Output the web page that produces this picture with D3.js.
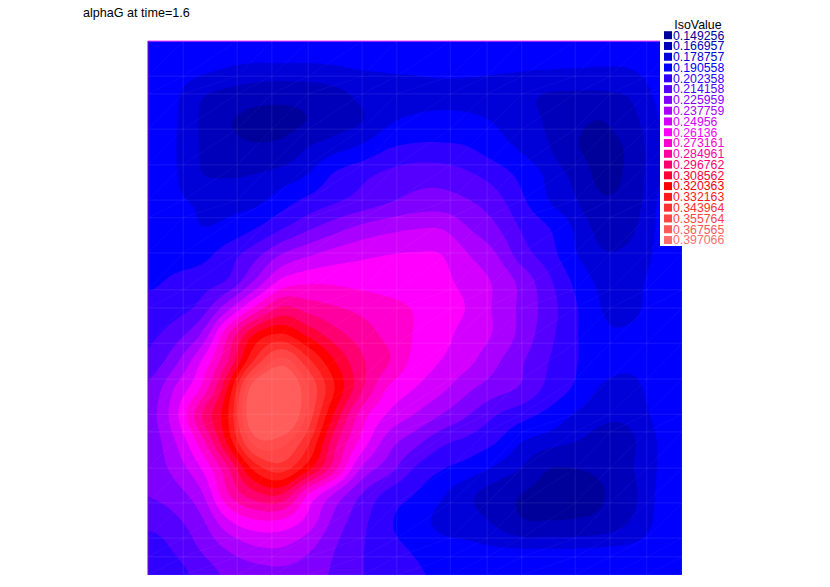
<!DOCTYPE html>
<html><head><meta charset="utf-8">
<script src="https://cdn.jsdelivr.net/npm/d3@7"></script>
<style>html,body{margin:0;background:#fff}svg{display:block}text{font-family:"Liberation Sans",Arial,sans-serif}</style>
</head><body><svg id="c" width="830" height="587"></svg>
<script>
const title = "alphaG at time=1.6";
const legendTitle = "IsoValue";
const isoLabels = ["0.149256","0.166957","0.178757","0.190558","0.202358","0.214158","0.225959","0.237759","0.24956","0.26136","0.273161","0.284961","0.296762","0.308562","0.320363","0.332163","0.343964","0.355764","0.367565","0.397066"];
const isoValues = isoLabels.map(Number);
const isoColors = ["#00009b","#0000bb","#0000d8","#0000ff","#3000ff","#5500ff","#8000ff","#aa00ff","#d400ff","#ff00ff","#ff00d0","#ff00a0","#ff0070","#ff0038","#ff0000","#ff1a1a","#ff3030","#ff4545","#ff5858","#ff6e6e"];
const bandColors = isoColors.slice(0,18).concat(["#ff4c4c","#ff5c5c"]);
const meshX = [0,.066,.167,.232,.3,.401,.466,.566,.635,.7,.8,.865,.934,1];
const meshY = [0,.034,.069,.135,.2,.268,.301,.367,.434,.5,.534,.603,.669,.702,.768,.835,.901,.934,1];
const nCols = 21;
// alphaG, top row first
const alphaG = [
.189,.186,.184,.183,.182,.182,.182,.182,.183,.184,.184,.184,.184,.184,.183,.183,.183,.182,.183,.185,.188,
.189,.186,.182,.1785,.177,.177,.177,.178,.1795,.180,.181,.182,.182,.181,.180,.1795,.179,.1785,.179,.183,.187,
.188,.181,.1685,.163,.158,.156,.158,.163,.170,.174,.174,.175,.174,.172,.170,.166,.165,.165,.168,.180,.186,
.186,.180,.165,.151,.143,.143,.150,.160,.1665,.177,.1815,.183,.182,.178,.172,.165,.154,.149,.160,.177,.185,
.186,.1795,.166,.156,.152,.155,.1675,.175,.181,.190,.193,.193,.191,.184,.177,.168,.151,.145,.152,.176,.185,
.186,.180,.1675,.1655,.1672,.172,.179,.192,.199,.205,.209,.209,.204,.197,.187,.176,.162,.144,.153,.176,.185,
.186,.181,.177,.175,.176,.185,.194,.201,.207,.213,.218,.219,.215,.207,.193,.179,.1685,.152,.156,.178,.185,
.187,.185,.179,.182,.190,.201,.212,.221,.229,.234,.237,.237,.226,.216,.201,.191,.177,.162,.163,.179,.186,
.186,.186,.187,.197,.210,.2265,.236,.243,.247,.2495,.2505,.2495,.238,.227,.208,.196,.180,.1685,.170,.180,.186,
.1885,.1925,.197,.204,.2275,.2525,.259,.259,.257,.256,.255,.2525,.245,.236,.222,.205,.188,.176,.176,.181,.186,
.1945,.1975,.207,.2345,.264,.287,.280,.2745,.270,.265,.2605,.255,.2485,.236,.223,.208,.192,.1785,.1775,.181,.187,
.1995,.209,.2275,.2725,.310,.322,.306,.290,.279,.270,.2605,.2535,.2445,.2365,.222,.206,.192,.181,.1795,.182,.188,
.2055,.2225,.250,.286,.335,.362,.336,.309,.287,.274,.2575,.249,.2405,.2285,.2155,.2025,.1915,.184,.181,.183,.188,
.2165,.238,.263,.310,.378,.392,.356,.320,.287,.2605,.2495,.2405,.2285,.2195,.2125,.199,.189,.1775,.175,.183,.188,
.220,.245,.284,.320,.385,.393,.352,.306,.268,.248,.237,.2255,.2145,.203,.195,.187,.1775,.170,.170,.181,.189,
.2185,.237,.268,.312,.362,.3615,.335,.289,.2575,.232,.2185,.2055,.199,.1915,.179,.173,.1672,.162,.164,.178,.188,
.218,.230,.250,.284,.325,.338,.313,.277,.2365,.2195,.2015,.1915,.1855,.177,.1665,.150,.1495,.1535,.1645,.178,.188,
.2145,.2205,.2355,.272,.292,.296,.2605,.235,.2135,.1985,.190,.180,.1695,.160,.1485,.143,.142,.148,.161,.179,.188,
.206,.2115,.2235,.2475,.259,.2585,.245,.222,.206,.1925,.1835,.176,.172,.165,.151,.150,.151,.155,.1665,.180,.188,
.195,.204,.2155,.2275,.236,.237,.2285,.2145,.2035,.1945,.189,.183,.1815,.1795,.1785,.1785,.1785,.1795,.1805,.183,.189,
.192,.197,.207,.2165,.2205,.2225,.2195,.212,.203,.197,.1925,.188,.186,.185,.184,.184,.184,.184,.185,.187,.190
];
const nRows = alphaG.length / nCols;

const svg = d3.select("#c");
const x = d3.scaleLinear().domain([0,1]).range([148,682]);
const y = d3.scaleLinear().domain([0,1]).range([575,41]);

// Resample the field onto a finer drawing raster so that the iso-lines are drawn smooth
const sub = 5;
const fCols = (nCols-1)*sub+1, fRows = (nRows-1)*sub+1;
const at = (c,r) => alphaG[Math.max(0,Math.min(nRows-1,r))*nCols + Math.max(0,Math.min(nCols-1,c))];
const cr = (p0,p1,p2,p3,t) => 0.5*(2*p1+(p2-p0)*t+(2*p0-5*p1+4*p2-p3)*t*t+(3*p1-p0-3*p2+p3)*t*t*t);
const field = new Array(fCols*fRows);
for (let j=0;j<fRows;j++) for (let i=0;i<fCols;i++) {
  const c=Math.floor(i/sub), r=Math.floor(j/sub), tx=i/sub-c, ty=j/sub-r;
  const row = k => cr(at(c-1,r+k),at(c,r+k),at(c+1,r+k),at(c+2,r+k),tx);
  field[j*fCols+i] = cr(row(-1),row(0),row(1),row(2),ty);
}
const gx = d3.scaleLinear().domain([0.5,fCols-0.5]).range([x(0),x(1)]);
const gy = d3.scaleLinear().domain([0.5,fRows-0.5]).range([y(1),y(0)]);

svg.append("defs").append("clipPath").attr("id","plot").append("rect")
  .attr("x",x(0)).attr("y",y(1)).attr("width",x(1)-x(0)).attr("height",y(0)-y(1));

const plot = svg.append("g").attr("clip-path","url(#plot)");
const thresholds = [0].concat(isoValues.slice(0,-1));
const contours = d3.contours().size([fCols,fRows]).smooth(true).thresholds(thresholds)(field);
const path = d3.geoPath(d3.geoTransform({point(a,b){this.stream.point(gx(a),gy(b));}}));
plot.selectAll("path.band").data(contours).join("path").attr("class","band")
  .attr("d",path).attr("fill",(d,i)=>bandColors[i]);

// faint mesh
const mesh = plot.append("g").attr("stroke","#fff").attr("fill","none").attr("stroke-width",1);
mesh.selectAll("line.mx").data(meshX).join("line").attr("class","mx")
  .attr("x1",d=>x(d)).attr("x2",d=>x(d)).attr("y1",y(0)).attr("y2",y(1)).attr("stroke-opacity",.09);
mesh.selectAll("line.my").data(meshY).join("line").attr("class","my")
  .attr("y1",d=>y(d)).attr("y2",d=>y(d)).attr("x1",x(0)).attr("x2",x(1)).attr("stroke-opacity",.09);
const cells = d3.cross(d3.pairs(meshX),d3.pairs(meshY));
mesh.selectAll("line.dg").data(cells).join("line").attr("class","dg")
  .attr("x1",d=>x(d[0][0])).attr("y1",d=>y(d[1][0])).attr("x2",d=>x(d[0][1])).attr("y2",d=>y(d[1][1]))
  .attr("stroke-opacity",.04);

// boundary edges
svg.append("line").attr("x1",x(0)).attr("x2",x(1)).attr("y1",y(1)).attr("y2",y(1)).attr("stroke","#ff40ff").attr("stroke-width",1.2);
svg.append("line").attr("x1",x(0)).attr("x2",x(0)).attr("y1",y(1)).attr("y2",y(0)).attr("stroke","#7000c0").attr("stroke-width",1);

// title
svg.append("text").attr("x",83).attr("y",17).attr("font-size",12.6).attr("fill","#000").text(title);

// legend
const lx = 660, sw = 8;
const ly = d3.scaleLinear().domain([0,isoLabels.length-1]).range([35.2,240]);
svg.append("rect").attr("x",lx).attr("y",y(1)-1).attr("width",22).attr("height",246-y(1)+1).attr("fill","#fff");
svg.append("text").attr("x",698).attr("y",29).attr("text-anchor","middle").attr("font-size",12.4).attr("fill","#000").text(legendTitle);
const rows = svg.selectAll("g.leg").data(isoLabels).join("g").attr("class","leg");
rows.append("rect").attr("x",664).attr("y",(d,i)=>ly(i)-4).attr("width",sw).attr("height",sw).attr("fill",(d,i)=>isoColors[i]);
rows.append("text").attr("x",673).attr("y",(d,i)=>ly(i)+4.3).attr("font-size",12.3).attr("fill",(d,i)=>isoColors[i]).text(d=>d);
</script></body></html>
